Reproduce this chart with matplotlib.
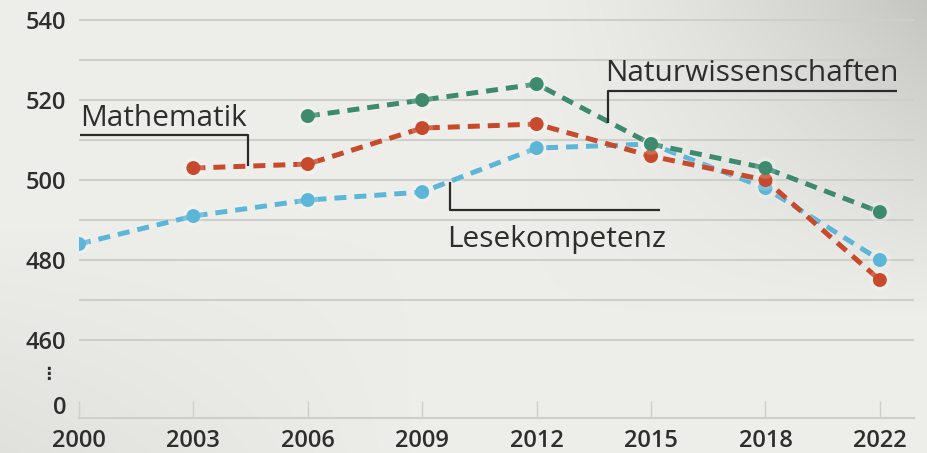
"""
PISA-Ergebnisse Deutschland 2000-2022: Mathematik, Lesekompetenz, Naturwissenschaften.
"""

import numpy as np
import matplotlib
matplotlib.use("Agg")
import matplotlib.pyplot as plt
import matplotlib.patheffects as pe

YEARS = ["2000", "2003", "2006", "2009", "2012", "2015", "2018", "2022"]
MATHE = [np.nan, 503, 504, 513, 514, 506, 500, 475]
LESEN = [484, 491, 495, 497, 508, 509, 498, 480]
NATUR = [np.nan, np.nan, 516, 520, 524, 509, 503, 492]

Y_TICKS = [460, 480, 500, 520, 540]
Y_GRID = [460, 470, 480, 490, 500, 510, 520, 530, 540]
Y_ZERO = 443  # where the broken axis shows "0"

C_MATHE = "#c74a2c"
C_LESEN = "#5db6d8"
C_NATUR = "#3d8a6f"
TXT = "#2e2e2e"

plt.rcParams["font.family"] = ["Open Sans", "DejaVu Sans"]

fig = plt.figure(figsize=(9.27, 4.53), dpi=100)

# background with soft vignette
bg = fig.add_axes([0, 0, 1, 1], zorder=-10)
yy, xx = np.mgrid[0:1:200j, 0:1:400j]
shade = 0.93 - 0.16 * np.clip((xx - 0.55) / 0.45, 0, 1) ** 1.5 * np.clip((0.7 - yy) / 0.7, 0, 1) \
        - 0.05 * np.clip((0.45 - xx) / 0.45, 0, 1) * np.clip((yy - 0.5) / 0.5, 0, 1)
bg.imshow(np.dstack([shade, shade, shade * 0.985]), aspect="auto", extent=[0, 1, 0, 1],
          interpolation="bicubic")
bg.axis("off")

ax = fig.add_axes([0.0852, 0.0773, 0.901, 0.896])
ax.patch.set_alpha(0)
x = np.arange(len(YEARS))

halo = [pe.Stroke(linewidth=5.5, foreground="white", alpha=0.18), pe.Normal()]
for vals, col in [(LESEN, C_LESEN), (MATHE, C_MATHE), (NATUR, C_NATUR)]:
    ax.plot(x, vals, color=col, lw=3.6, linestyle=(0, (2.4, 1.6)),
            marker="o", markersize=10, markeredgewidth=0, zorder=3,
            path_effects=halo)

ax.set_xlim(0, 7.3)
ax.set_ylim(440.5, 542)

for g in Y_GRID:
    ax.axhline(g, color="#cfcfca", lw=1.5, zorder=1)

ax.set_yticks(Y_TICKS)
ax.set_yticklabels([str(t) for t in Y_TICKS])
ax.tick_params(axis="y", length=0, pad=9, labelsize=17, labelcolor=TXT)
for lab in ax.get_yticklabels():
    lab.set_fontweight("semibold")

ax.set_xticks(x)
ax.set_xticklabels(YEARS)
ax.tick_params(axis="x", direction="in", length=12, width=1, color="#cfcfca",
               pad=8, labelsize=17, labelcolor=TXT)
for lab in ax.get_xticklabels():
    lab.set_fontweight("semibold")

for s in ["top", "right", "left"]:
    ax.spines[s].set_visible(False)
ax.spines["bottom"].set_color("#cfcfca")
ax.spines["bottom"].set_linewidth(1.5)

# broken-axis zero and dots
ax.annotate("0", xy=(0, Y_ZERO), xycoords=("axes fraction", "data"), xytext=(-9, 0),
            textcoords="offset points", ha="right", va="center", fontsize=17,
            fontweight="semibold", color=TXT)
ax.annotate("⋮", xy=(0, 451.5), xycoords=("axes fraction", "data"), xytext=(-22, 0),
            textcoords="offset points", ha="center", va="center", fontsize=12,
            fontweight="bold", color=TXT, family=["DejaVu Sans"])

# series labels with leader lines
lead = dict(color="#2b2b2b", lw=1.6, solid_capstyle="butt", zorder=4)
ax.text(0.01, 513.6, "Mathematik", fontsize=21.5, color=TXT, va="baseline", ha="left")
ax.plot([0.01, 1.48, 1.48], [511.3, 511.3, 503.6], **lead)

ax.text(4.6, 524.8, "Naturwissenschaften", fontsize=21.5, color=TXT, va="baseline", ha="left")
ax.plot([7.15, 4.62, 4.62], [522.3, 522.3, 514.3], **lead)

ax.text(3.22, 483.3, "Lesekompetenz", fontsize=21.5, color=TXT, va="baseline", ha="left")
ax.plot([5.08, 3.24, 3.24], [492.5, 492.5, 499.5], **lead)

fig.savefig("out.png", dpi=100)
